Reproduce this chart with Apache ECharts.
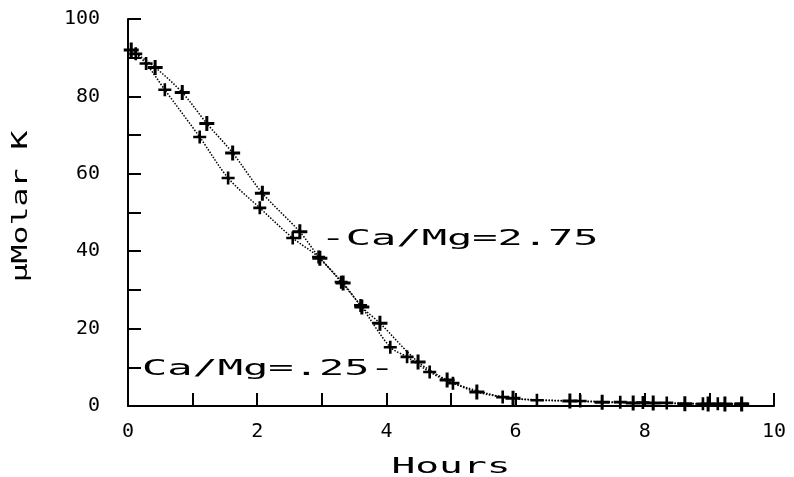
<!DOCTYPE html>
<html>
<head>
<meta charset="utf-8" />
<title>Potassium depletion</title>
<script src="https://cdn.jsdelivr.net/npm/echarts@6/dist/echarts.min.js"></script>
</head>
<body style="margin:0;background:#fff;">
<div id="chart" style="width:794px;height:477px;"></div>
<script type="text/javascript">
// Ca/Mg = 2.75 (upper curve)
var hiX = [0.05, 0.42, 0.84, 1.22, 1.62, 2.08, 2.66, 2.97, 3.33, 3.62, 3.90, 4.49, 4.94, 5.40, 5.96, 6.84, 7.34, 7.82, 8.13, 8.62, 8.98, 9.24, 9.50];
var hiY = [92, 87.5, 81, 73, 65.4, 55, 45, 38.2, 31.8, 25.6, 21.4, 11.4, 6.7, 3.6, 2.0, 1.3, 1.0, 0.8, 0.8, 0.6, 0.5, 0.5, 0.5];
// Ca/Mg = .25 (lower curve)
var loX = [0.12, 0.28, 0.57, 1.11, 1.55, 2.04, 2.55, 2.95, 3.30, 3.60, 4.06, 4.32, 4.67, 5.03, 5.80, 6.33, 7.00, 7.62, 7.97, 8.34, 8.90, 9.13, 9.50];
var loY = [91, 88.5, 81.7, 69.5, 58.9, 51.2, 43.4, 38.5, 32, 26, 15.2, 12.7, 8.8, 5.9, 2.3, 1.5, 1.3, 1.0, 0.9, 0.8, 0.6, 0.6, 0.6];
var hiLabel = '-Ca/Mg=2.75';
var loLabel = 'Ca/Mg=.25-';
var xName = 'Hours';
var yName = 'μMolar K';

function pairs(xs, ys) {
  var out = [];
  for (var i = 0; i < xs.length; i++) out.push([xs[i], ys[i]]);
  return out;
}

var cross = 'path://M4,0H6V4H10V6H6V10H4V6H0V4H4Z';
var font = 'DejaVu Sans Mono';

var myChart = echarts.init(document.getElementById('chart'));
var option = {
  backgroundColor: '#fff',
  animation: false,
  textStyle: { fontFamily: font, color: '#000' },
  grid: { left: 128, right: 20, top: 19, bottom: 71 },
  xAxis: {
    type: 'value', min: 0, max: 10, interval: 2,
    axisLine: { lineStyle: { color: '#000', width: 2 } },
    axisTick: { inside: true, length: 13, lineStyle: { color: '#000', width: 2 } },
    minorTick: { show: true, splitNumber: 2, length: 13, lineStyle: { color: '#000', width: 2 } },
    axisLabel: { fontSize: 20, color: '#000', margin: 16, fontFamily: font },
    splitLine: { show: false }
  },
  yAxis: {
    type: 'value', min: 0, max: 100, interval: 20,
    axisLine: { show: true, lineStyle: { color: '#000', width: 2 } },
    axisTick: { show: true, inside: true, length: 13, lineStyle: { color: '#000', width: 2 } },
    minorTick: { show: true, splitNumber: 2, length: 13, lineStyle: { color: '#000', width: 2 } },
    axisLabel: { fontSize: 20, color: '#000', margin: 28, fontFamily: font },
    splitLine: { show: false }
  },
  series: [
    {
      name: 'Ca/Mg=2.75', type: 'line', smooth: 0.3,
      data: pairs(hiX, hiY),
      symbol: cross, symbolSize: 15,
      itemStyle: { color: '#000' },
      lineStyle: { color: '#000', width: 1.5, type: 'dotted' }
    },
    {
      name: 'Ca/Mg=.25', type: 'line', smooth: 0.3,
      data: pairs(loX, loY),
      symbol: cross, symbolSize: 13,
      itemStyle: { color: '#000' },
      lineStyle: { color: '#000', width: 1.5, type: 'dotted' }
    }
  ]
};
myChart.setOption(option);

// plotter-style wide lettering: place texts from data coords, stretch horizontally
var pHi = myChart.convertToPixel({ gridIndex: 0 }, [2.98, 43]);
var pLo = myChart.convertToPixel({ gridIndex: 0 }, [4.13, 9.3]);
var pX = myChart.convertToPixel({ gridIndex: 0 }, [5, 0]);
var pY = myChart.convertToPixel({ gridIndex: 0 }, [0, 50]);
var txt = function (s, x, y, align, sx, size, rot) {
  return {
    type: 'text', x: x, y: y, scaleX: sx, rotation: rot || 0,
    style: { text: s, fill: '#000', font: size + 'px "' + font + '"',
             textAlign: align, textVerticalAlign: 'middle' }
  };
};
myChart.setOption({
  graphic: [
    txt(hiLabel, pHi[0], pHi[1], 'left', 2.0, 21),
    txt(loLabel, pLo[0], pLo[1], 'right', 2.0, 21),
    txt(xName, pX[0], pX[1] + 61, 'center', 1.8, 22),
    txt(yName, pY[0] - 106, pY[1] - 6, 'center', 1.5, 21, Math.PI / 2)
  ]
});
</script>
</body>
</html>
